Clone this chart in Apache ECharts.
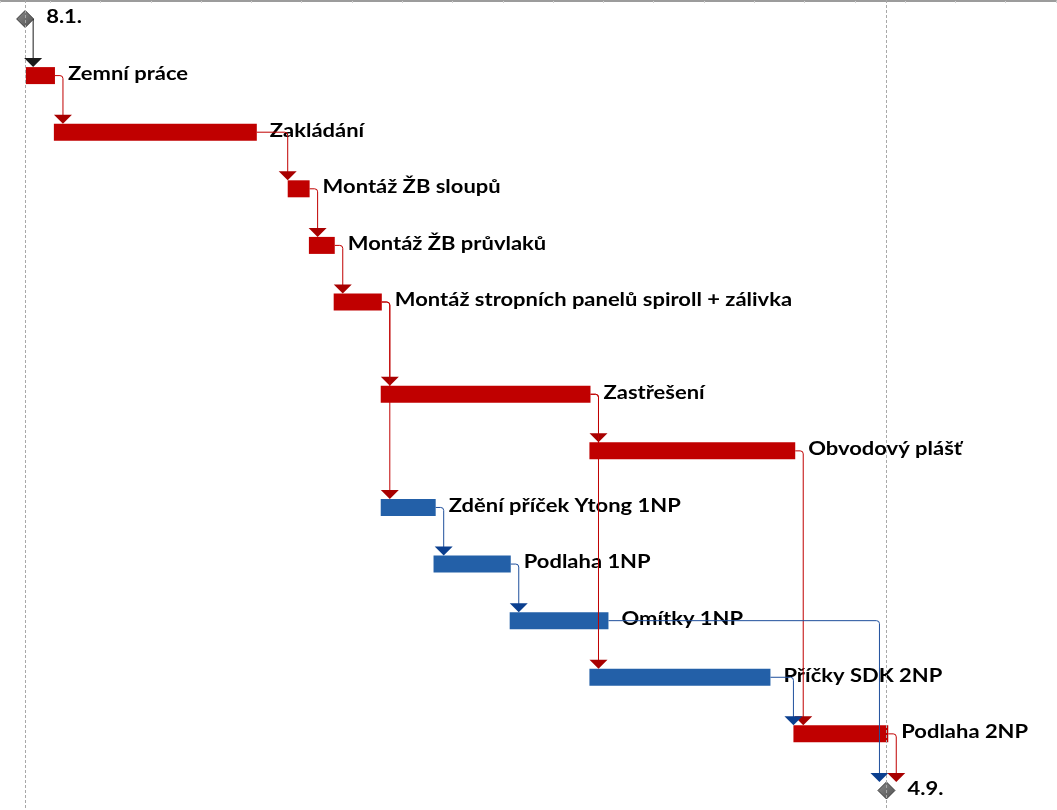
<!DOCTYPE html>
<html>
<head>
<meta charset="utf-8">
<script src="https://cdn.jsdelivr.net/npm/echarts@6/dist/echarts.min.js"></script>
<style>
html,body{margin:0;padding:0;background:#ffffff;}
#chart{width:1057px;height:810px;}
</style>
</head>
<body>
<div id="chart"></div>
<script>
// ---- data (days counted from 1.1.; project starts 8.1. and ends 4.9.) ----
const taskNames = ['8.1.', 'Zemní práce', 'Zakládání', 'Montáž ŽB sloupů', 'Montáž ŽB průvlaků',
  'Montáž stropních panelů spiroll + zálivka', 'Zastřešení', 'Obvodový plášť',
  'Zdění příček Ytong 1NP', 'Podlaha 1NP', 'Omítky 1NP', 'Příčky SDK 2NP', 'Podlaha 2NP', '4.9.'];
const taskStart = [7.0, 7.2, 15.0, 80.1, 86.0, 92.9, 106.0, 164.1, 106.0, 120.7, 141.9, 164.1, 220.9, 246.8];
const taskEnd   = [7.0, 15.3, 71.5, 86.2, 93.2, 106.3, 164.4, 221.4, 121.3, 142.2, 169.4, 214.5, 247.3, 246.8];
const taskKind  = ['milestone', 'critical', 'critical', 'critical', 'critical', 'critical', 'critical', 'critical',
  'normal', 'normal', 'normal', 'normal', 'critical', 'milestone'];
const linkFrom = [0, 1, 2, 3, 4, 5, 5, 6, 6, 7, 8, 9, 10, 11, 12];
const linkTo   = [1, 2, 3, 4, 5, 6, 8, 7, 11, 12, 9, 10, 13, 12, 13];
const timeAxisMin = 0, timeAxisMax = 294, timeTickDays = 14;

// ---- layout / style ----
const TALL_ROW = 5, TALL_EXTRA = 0.63;      // the 'Montáž stropních panelů...' table row is taller
function rowPos(i) { return i + (i > TALL_ROW ? TALL_EXTRA : 0); }
const BAR_COLOR = { critical: '#c00000', normal: '#2360a8' };
const LINK_COLOR = {
  critical: { line: '#c00000', head: '#a80000' },
  normal: { line: '#1f4f9c', head: '#0b3f8f' },
  milestone: { line: '#1a1a1a', head: '#1a1a1a' }
};
const BAR_H = 17, DIA = 8.5, ARROW_HW = 9, ARROW_H = 9, LINK_GAP = 8, LABEL_GAP = 13, R = 3;
const FONT = { fontFamily: 'Lato', fontWeight: 'bold', fontSize: 18 };
const TEXT_STRETCH = 1.22;

const chart = echarts.init(document.getElementById('chart'), null, { renderer: 'canvas' });

const barData = taskNames.map((n, i) => [taskStart[i], taskEnd[i], rowPos(i), i]);
const linkData = linkFrom.map((f, k) => {
  const t = linkTo[k];
  return [taskEnd[f], rowPos(f), taskStart[t], rowPos(t), f, t];
});
const markerData = taskNames.map((n, i) => i).filter(i => taskKind[i] === 'milestone').map(i => [taskStart[i], rowPos(i), i]);

function renderBar(params, api) {
  const i = api.value(3);
  const s = api.coord([api.value(0), api.value(2)]);
  const e = api.coord([api.value(1), api.value(2)]);
  const kind = taskKind[i];
  const children = [];
  let labelX;
  if (kind === 'milestone') {
    children.push({
      type: 'polygon',
      shape: { points: [[s[0], s[1] - DIA], [s[0] + DIA, s[1]], [s[0], s[1] + DIA], [s[0] - DIA, s[1]]] },
      style: {
        fill: new echarts.graphic.LinearGradient(0, 0, 1, 1, [
          { offset: 0, color: '#8a8a8a' }, { offset: 1, color: '#505050' }
        ]),
        stroke: '#3a3a3a', lineWidth: 1
      }
    });
    labelX = s[0] + DIA + 12.5;
  } else {
    children.push({
      type: 'rect',
      shape: { x: s[0], y: s[1] - BAR_H / 2, width: e[0] - s[0], height: BAR_H },
      style: { fill: BAR_COLOR[kind] }
    });
    labelX = e[0] + LABEL_GAP;
  }
  children.push({
    type: 'text',
    x: labelX, y: s[1] - 1.5, scaleX: TEXT_STRETCH, scaleY: 1,
    style: Object.assign({ text: taskNames[i], x: 0, y: 0, fill: '#000000',
      align: 'left', verticalAlign: 'middle' }, FONT)
  });
  return { type: 'group', children: children };
}

function renderLink(params, api) {
  const f = api.value(4), t = api.value(5);
  const p = api.coord([api.value(0), api.value(1)]);
  const q = api.coord([api.value(2), api.value(3)]);
  const fromMs = taskKind[f] === 'milestone', toMs = taskKind[t] === 'milestone';
  const col = LINK_COLOR[taskKind[f]];
  const sx = fromMs ? p[0] + DIA : p[0];
  const succLeft = toMs ? q[0] - 7 : q[0];
  const vx = Math.max(p[0] + LINK_GAP, succLeft);
  const topY = toMs ? q[1] - DIA : q[1] - BAR_H / 2;
  const y1 = p[1];
  const hx = Math.max(sx, vx - R);
  const d = 'M' + sx + ' ' + y1 + ' L' + hx + ' ' + y1 + ' Q' + vx + ' ' + y1 + ' ' + vx + ' ' + (y1 + R) +
    ' L' + vx + ' ' + (topY - ARROW_H + 1);
  return {
    type: 'group',
    children: [
      { type: 'path', shape: { pathData: d }, style: { fill: null, stroke: col.line, lineWidth: 1 } },
      { type: 'polygon', shape: { points: [[vx - ARROW_HW, topY - ARROW_H], [vx + ARROW_HW, topY - ARROW_H], [vx, topY]] },
        style: { fill: col.head } }
    ]
  };
}

function renderMarker(params, api) {
  const c = api.coord([api.value(0), api.value(1)]);
  const x = Math.round(c[0]) + 0.5;
  const cs = params.coordSys;
  return {
    type: 'line',
    shape: { x1: x, y1: 0, x2: x, y2: cs.y + cs.height + 2 },
    style: { stroke: '#a8a8a8', lineWidth: 1, lineDash: [3, 2] }
  };
}

chart.setOption({
  animation: false,
  backgroundColor: '#ffffff',
  grid: { left: -1, right: 1, top: 1, bottom: 0, containLabel: false },
  xAxis: {
    type: 'value', position: 'top', min: timeAxisMin, max: timeAxisMax, interval: timeTickDays,
    axisLine: { show: true, onZero: false, lineStyle: { color: '#9c9c9c', width: 2 } },
    axisTick: { show: true, inside: true, length: 2, lineStyle: { color: '#cfcfcf', width: 1 } },
    axisLabel: { show: false }, splitLine: { show: false }
  },
  yAxis: { type: 'value', inverse: true, min: -0.318, max: 13.975, show: false },
  series: [
    { type: 'custom', name: 'tasks', z: 2, renderItem: renderBar, data: barData,
      encode: { x: [0, 1], y: 2 }, clip: false },
    { type: 'custom', name: 'links', z: 3, renderItem: renderLink, data: linkData,
      encode: { x: [0, 2], y: [1, 3] }, clip: false },
    { type: 'custom', name: 'projectBounds', z: 4, renderItem: renderMarker, data: markerData,
      encode: { x: 0, y: 1 }, clip: false }
  ]
});
</script>
</body>
</html>
